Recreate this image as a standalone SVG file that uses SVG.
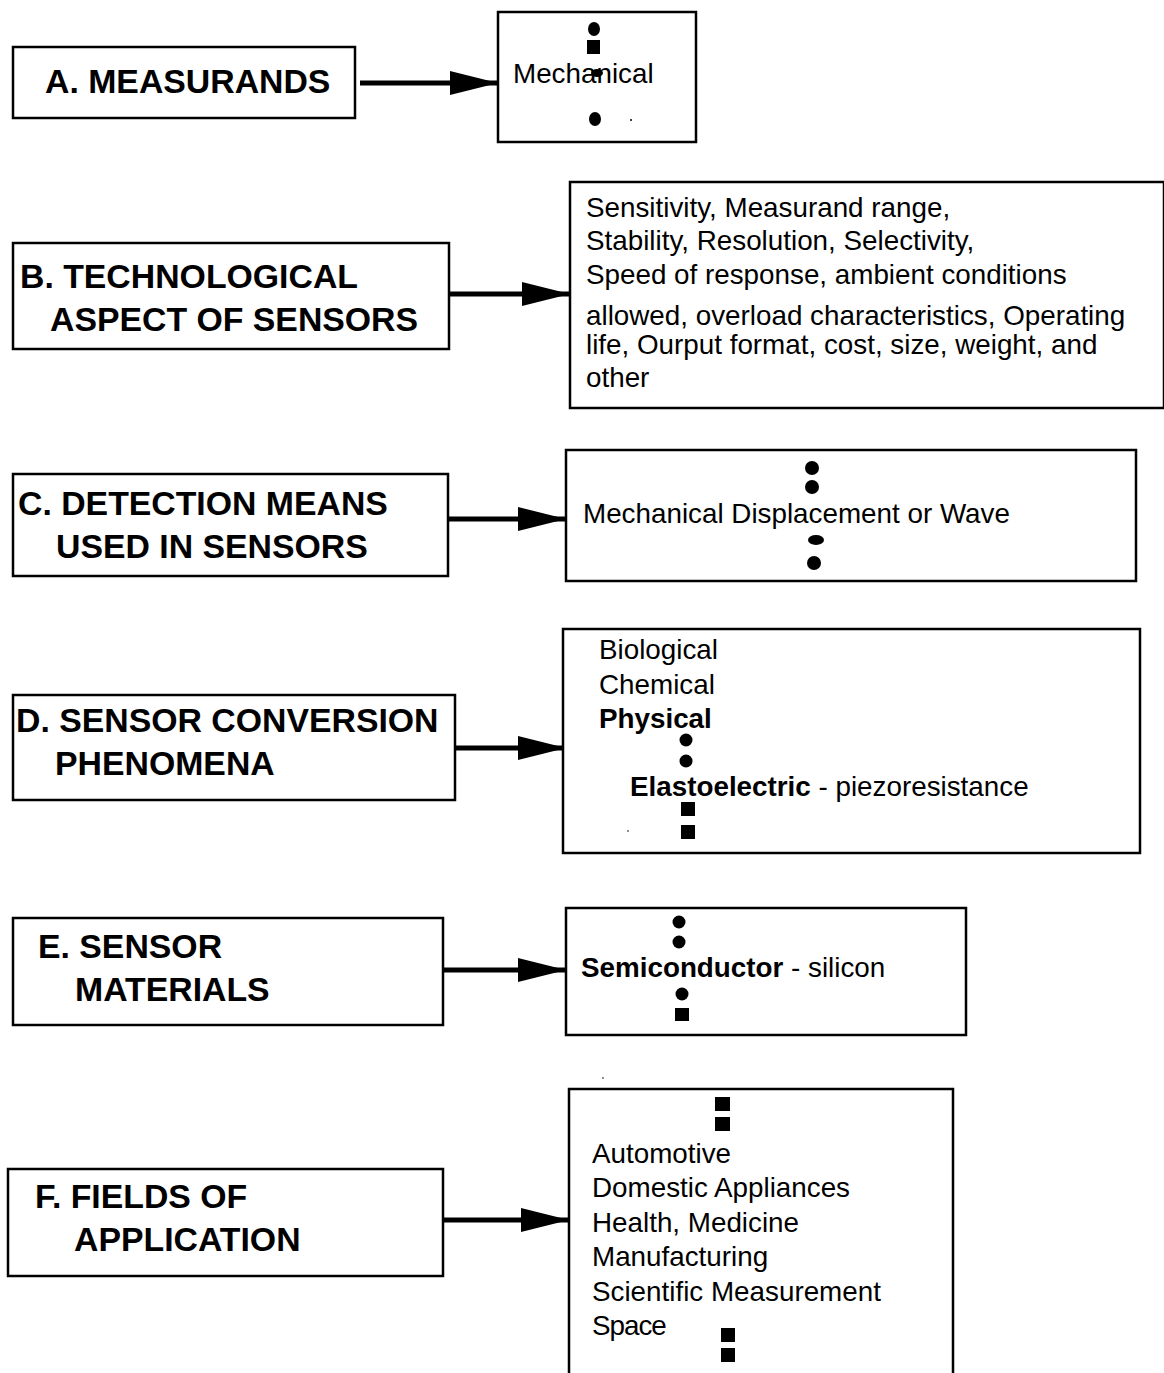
<svg xmlns="http://www.w3.org/2000/svg" width="1164" height="1373" viewBox="0 0 1164 1373">
<defs>
<style>
.box{fill:#fff;stroke:#000;stroke-width:2.5}
.hd{font-family:"Liberation Sans",Arial,sans-serif;font-weight:bold;font-size:33.8px;fill:#000}
.tx{font-family:"Liberation Sans",Arial,sans-serif;font-size:27.8px;fill:#000}
.b{font-weight:bold}
.ln{stroke:#000;stroke-width:5;fill:none}
</style>
<marker id="ah" markerUnits="userSpaceOnUse" markerWidth="50" markerHeight="28" refX="48" refY="14" orient="auto">
<path d="M0,2 L48,14 L0,26 z" fill="#000"/>
</marker>
</defs>
<rect width="1164" height="1373" fill="#fff"/>

<g id="connectors">
<line class="ln" x1="360" y1="83" x2="498" y2="83" marker-end="url(#ah)"/>
<line class="ln" x1="449" y1="294" x2="570" y2="294" marker-end="url(#ah)"/>
<line class="ln" x1="448" y1="519" x2="566" y2="519" marker-end="url(#ah)"/>
<line class="ln" x1="455" y1="748" x2="566" y2="748" marker-end="url(#ah)"/>
<line class="ln" x1="443" y1="970" x2="566" y2="970" marker-end="url(#ah)"/>
<line class="ln" x1="443" y1="1220" x2="569" y2="1220" marker-end="url(#ah)"/>
</g>

<g id="nodeA">
<rect class="box" x="13" y="47" width="342" height="71"/>
<text class="hd" x="45" y="93">A. MEASURANDS</text>
</g>
<g id="nodeA2">
<rect class="box" x="498" y="12" width="198" height="130"/>
<ellipse cx="594" cy="29" rx="6" ry="7"/>
<rect x="587" y="40" width="13" height="14"/>
<text class="tx" x="513" y="83">Mechanical</text>
<ellipse cx="597" cy="73" rx="6" ry="4"/>
<ellipse cx="595" cy="119" rx="6" ry="7"/>
<circle cx="631" cy="120" r="1"/>
</g>

<g id="nodeB">
<rect class="box" x="13" y="243" width="436" height="106"/>
<text class="hd" x="20" y="288">B. TECHNOLOGICAL</text>
<text class="hd" x="50" y="331">ASPECT OF SENSORS</text>
</g>
<g id="nodeB2">
<rect class="box" x="570" y="182" width="594" height="226"/>
<text class="tx" x="586" y="217">Sensitivity, Measurand range,</text>
<text class="tx" x="586" y="250">Stability, Resolution, Selectivity,</text>
<text class="tx" x="586" y="284">Speed of response, ambient conditions</text>
<text class="tx" x="586" y="325">allowed, overload characteristics, Operating</text>
<text class="tx" x="586" y="354">life, Ourput format, cost, size, weight, and</text>
<text class="tx" x="586" y="387">other</text>
</g>

<g id="nodeC">
<rect class="box" x="13" y="474" width="435" height="102"/>
<text class="hd" x="18" y="515">C. DETECTION MEANS</text>
<text class="hd" x="56" y="558">USED IN SENSORS</text>
</g>
<g id="nodeC2">
<rect class="box" x="566" y="450" width="570" height="131"/>
<circle cx="812" cy="468" r="7"/>
<circle cx="812" cy="487" r="7"/>
<text class="tx" x="583" y="523">Mechanical Displacement or Wave</text>
<ellipse cx="816" cy="540" rx="8" ry="5"/>
<circle cx="814" cy="563" r="7"/>
</g>

<g id="nodeD">
<rect class="box" x="13" y="695" width="442" height="105"/>
<text class="hd" x="16" y="732">D. SENSOR CONVERSION</text>
<text class="hd" x="55" y="775">PHENOMENA</text>
</g>
<g id="nodeD2">
<rect class="box" x="563" y="629" width="577" height="224"/>
<text class="tx" x="599" y="659">Biological</text>
<text class="tx" x="599" y="694">Chemical</text>
<text class="tx b" x="599" y="728">Physical</text>
<circle cx="686" cy="740" r="6.5"/>
<circle cx="686" cy="761" r="6.5"/>
<text class="tx" x="630" y="796"><tspan class="b">Elastoelectric</tspan> - piezoresistance</text>
<rect x="681" y="802" width="14" height="14"/>
<rect x="681" y="825" width="14" height="14"/>
<circle cx="628" cy="831" r="0.8"/>
</g>

<g id="nodeE">
<rect class="box" x="13" y="918" width="430" height="107"/>
<text class="hd" x="38" y="958">E. SENSOR</text>
<text class="hd" x="75" y="1001">MATERIALS</text>
</g>
<g id="nodeE2">
<rect class="box" x="566" y="908" width="400" height="127"/>
<circle cx="679" cy="922" r="6.5"/>
<circle cx="679" cy="942" r="6.5"/>
<text class="tx" x="581" y="977"><tspan class="b">Semiconductor</tspan> - silicon</text>
<circle cx="682" cy="994" r="6.5"/>
<rect x="675" y="1008" width="14" height="13"/>
</g>

<g id="nodeF">
<rect class="box" x="8" y="1169" width="435" height="107"/>
<text class="hd" x="35" y="1208">F. FIELDS OF</text>
<text class="hd" x="74" y="1251">APPLICATION</text>
</g>
<g id="nodeF2">
<path d="M569,1373 V1089 H953 V1373" fill="#fff" stroke="#000" stroke-width="2.5"/>
<rect x="715" y="1097" width="15" height="14"/>
<rect x="715" y="1117" width="15" height="14"/>
<text class="tx" x="592" y="1163">Automotive</text>
<text class="tx" x="592" y="1197">Domestic Appliances</text>
<text class="tx" x="592" y="1232">Health, Medicine</text>
<text class="tx" x="592" y="1266">Manufacturing</text>
<text class="tx" x="592" y="1301">Scientific Measurement</text>
<text class="tx" x="592" y="1335" letter-spacing="-1">Space</text>
<rect x="721" y="1328" width="14" height="14"/>
<rect x="721" y="1348" width="14" height="14"/>
<circle cx="603" cy="1078" r="0.8"/>
</g>
</svg>
